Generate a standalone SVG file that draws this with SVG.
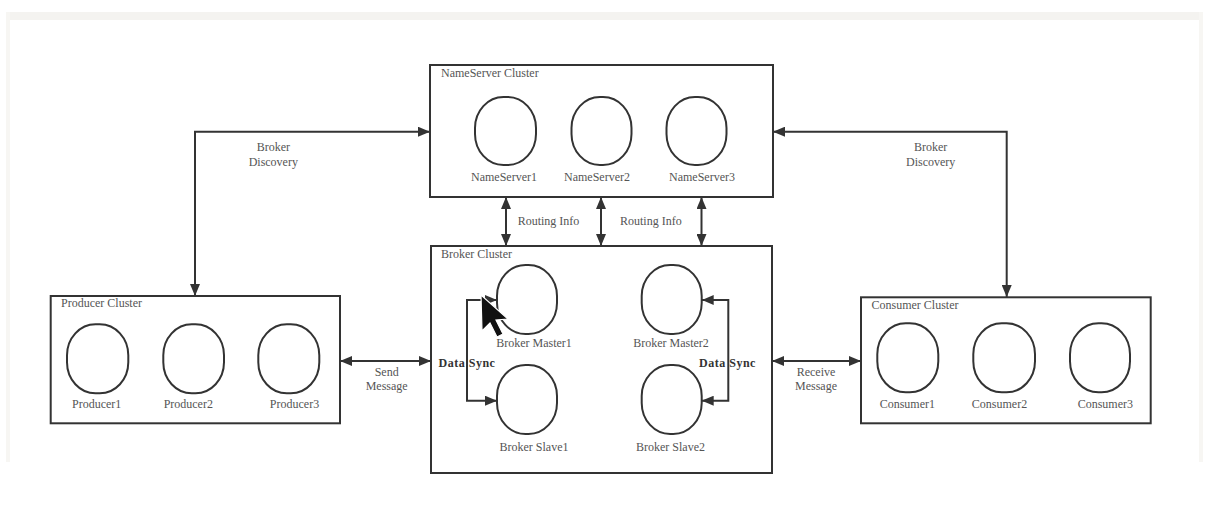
<svg xmlns="http://www.w3.org/2000/svg" width="1211" height="511" viewBox="0 0 1211 511">
<style>
.box{fill:none;stroke:#333;stroke-width:2}
.ov{fill:#fff;stroke:#333;stroke-width:2}
.t{font-family:"Liberation Serif","Times New Roman",serif;font-size:12px;fill:#555}
.c{text-anchor:middle}
.b{font-weight:bold;fill:#333}
.ln{fill:none;stroke:#333;stroke-width:2;marker-start:url(#ah);marker-end:url(#ah)}
</style>
<defs>
<marker id="ah" viewBox="0 0 12 10" refX="12" refY="5" markerWidth="12" markerHeight="10" markerUnits="userSpaceOnUse" orient="auto-start-reverse">
<path d="M0,0 L12,5 L0,10 Z" fill="#333"/>
</marker>
</defs>
<rect x="0" y="0" width="1211" height="511" fill="#fff"/>
<rect x="6" y="12" width="1197" height="8" fill="#f4f3f0"/>
<rect x="6" y="12" width="4" height="450" fill="#f7f6f3"/>
<rect x="1199" y="12" width="4" height="450" fill="#f7f6f3"/>

<g id="connectors">
<path class="ln" d="M195,296 V131.7 H430"/>
<path class="ln" d="M1006.7,297 V131.7 H773"/>
<path class="ln" d="M506,197 V246"/>
<path class="ln" d="M601,197 V246"/>
<path class="ln" d="M701.5,197 V246"/>
<path class="ln" d="M340,361 H431"/>
<path class="ln" d="M772,361 H861"/>
<path class="ln" d="M497,300 H467 V400.7 H497"/>
<path class="ln" d="M701.7,300 H728.3 V400.7 H701.7"/>
<text class="t c" x="273.3" y="150.5">Broker</text>
<text class="t c" x="273.3" y="165.5">Discovery</text>
<text class="t c" x="930.7" y="150.5">Broker</text>
<text class="t c" x="930.7" y="165.5">Discovery</text>
<text class="t" x="517.7" y="225">Routing Info</text>
<text class="t" x="620" y="225">Routing Info</text>
<text class="t c" x="386.7" y="375.5">Send</text>
<text class="t c" x="386.7" y="389.5">Message</text>
<text class="t c" x="816" y="376">Receive</text>
<text class="t c" x="816" y="389.5">Message</text>
<text class="t c b" x="467" y="367" letter-spacing="0.5">Data Sync</text>
<text class="t c b" x="727.5" y="367" letter-spacing="0.5">Data Sync</text>
</g>

<g id="nameserver-cluster">
<rect class="box" x="430" y="65" width="343" height="132"/>
<text class="t" x="441" y="76.5">NameServer Cluster</text>
</g>
<g id="nameserver1">
<rect class="ov" x="475" y="97" width="61" height="68" rx="28.5" ry="31"/>
<text class="t c" x="504" y="181">NameServer1</text>
</g>
<g id="nameserver2">
<rect class="ov" x="571.5" y="97" width="60" height="68" rx="28.5" ry="31"/>
<text class="t c" x="597" y="181">NameServer2</text>
</g>
<g id="nameserver3">
<rect class="ov" x="666.5" y="97" width="60" height="68" rx="28.5" ry="31"/>
<text class="t c" x="702" y="181">NameServer3</text>
</g>

<g id="broker-cluster">
<rect class="box" x="431" y="246" width="341" height="227"/>
<text class="t" x="441" y="258">Broker Cluster</text>
</g>
<g id="broker-master1">
<rect class="ov" x="497" y="265" width="60" height="69" rx="28.5" ry="31"/>
<text class="t c" x="534" y="347">Broker Master1</text>
</g>
<g id="broker-master2">
<rect class="ov" x="641.7" y="265" width="60" height="69" rx="28.5" ry="31"/>
<text class="t c" x="671" y="347">Broker Master2</text>
</g>
<g id="broker-slave1">
<rect class="ov" x="497" y="365" width="60" height="69" rx="28.5" ry="31"/>
<text class="t c" x="534" y="450.5">Broker Slave1</text>
</g>
<g id="broker-slave2">
<rect class="ov" x="641.7" y="365" width="60" height="69" rx="28.5" ry="31"/>
<text class="t c" x="670.5" y="450.5">Broker Slave2</text>
</g>

<g id="producer-cluster">
<rect class="box" x="50.7" y="296" width="289.3" height="127.3"/>
<text class="t" x="61" y="307">Producer Cluster</text>
</g>
<g id="producer1">
<rect class="ov" x="67" y="324.3" width="61.3" height="69" rx="28.5" ry="31"/>
<text class="t c" x="96.7" y="407.5">Producer1</text>
</g>
<g id="producer2">
<rect class="ov" x="163.3" y="324.3" width="60.7" height="69" rx="28.5" ry="31"/>
<text class="t c" x="188.3" y="407.5">Producer2</text>
</g>
<g id="producer3">
<rect class="ov" x="258.3" y="324.3" width="61" height="69" rx="28.5" ry="31"/>
<text class="t c" x="294.5" y="407.5">Producer3</text>
</g>

<g id="consumer-cluster">
<rect class="box" x="861" y="297.3" width="289.7" height="126"/>
<text class="t" x="871.5" y="309">Consumer Cluster</text>
</g>
<g id="consumer1">
<rect class="ov" x="877.3" y="323.3" width="61" height="69" rx="28.5" ry="31"/>
<text class="t c" x="907.3" y="408">Consumer1</text>
</g>
<g id="consumer2">
<rect class="ov" x="973.3" y="323.3" width="61.7" height="69" rx="28.5" ry="31"/>
<text class="t c" x="999.5" y="408">Consumer2</text>
</g>
<g id="consumer3">
<rect class="ov" x="1070" y="323.3" width="60" height="69" rx="28.5" ry="31"/>
<text class="t c" x="1105.3" y="408">Consumer3</text>
</g>

<g id="cursor">
<polygon points="481,295 482,331 490,323 497,337 503,334 496,320 508,319" fill="#111" stroke="#fff" stroke-width="1.2"/>
</g>
</svg>
